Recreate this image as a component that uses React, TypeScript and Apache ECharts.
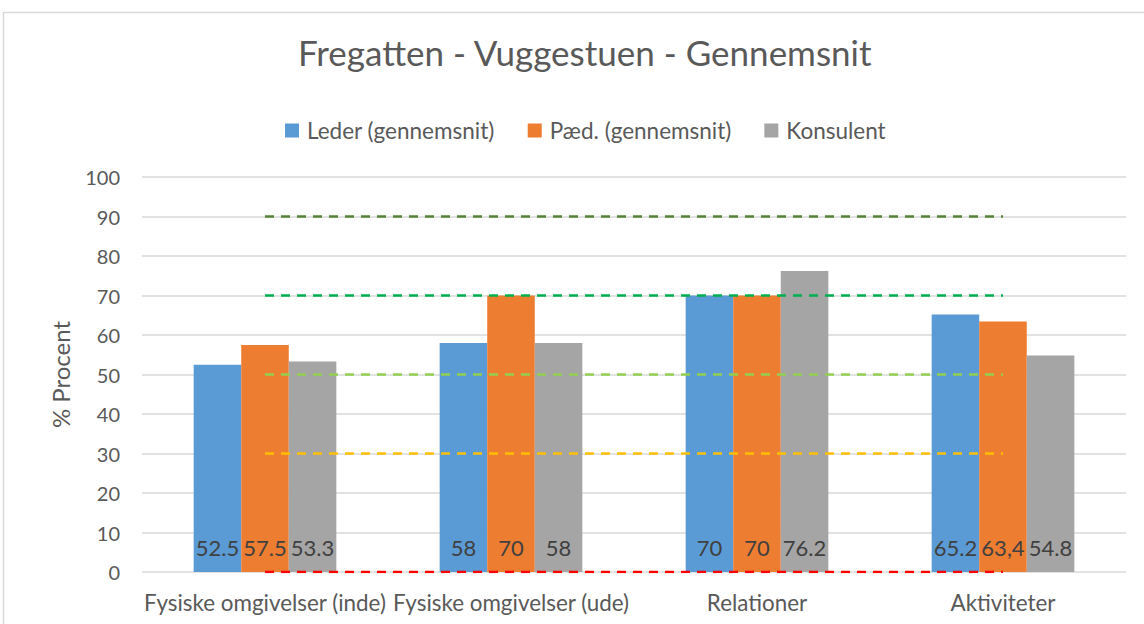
import React, { useEffect, useRef } from "react";
import * as echarts from "echarts";

const categories = [
  "Fysiske omgivelser (inde)",
  "Fysiske omgivelser (ude)",
  "Relationer",
  "Aktiviteter",
];
const lederValues = [52.5, 58, 70, 65.2];
const paedValues = [57.5, 70, 70, 63.4];
const konsulentValues = [53.3, 58, 76.2, 54.8];
const lederLabels = ["52.5", "58", "70", "65.2"];
const paedLabels = ["57.5", "70", "70", "63,4"];
const konsulentLabels = ["53.3", "58", "76.2", "54.8"];
const seriesNames = ["Leder (gennemsnit)", "Pæd. (gennemsnit)", "Konsulent"];
const yTicks = [0, 10, 20, 30, 40, 50, 60, 70, 80, 90, 100];
const refLevels = [90, 70, 50, 30, 0];
const refColors = ["#548235", "#00B050", "#92D050", "#FFC000", "#FF0000"];

const FONT = "Lato";

export default function App() {
  const ref = useRef<HTMLDivElement>(null);
  useEffect(() => {
    if (!ref.current) return;
    const chart = echarts.init(ref.current, null, { renderer: "svg" });
    const barLabel = (labels: string[]) => ({
      show: true,
      position: "insideBottom",
      distance: 14,
      color: "#404040",
      fontSize: 22,
      fontFamily: FONT,
      formatter: (p: any) => labels[p.dataIndex],
    });
    const bars = [
      { name: seriesNames[0], data: lederValues, color: "#5B9BD5", labels: lederLabels },
      { name: seriesNames[1], data: paedValues, color: "#ED7D31", labels: paedLabels },
      { name: seriesNames[2], data: konsulentValues, color: "#A5A5A5", labels: konsulentLabels },
    ].map((s) => ({
      type: "bar",
      name: s.name,
      data: s.data,
      barGap: "0%",
      barCategoryGap: "42%",
      itemStyle: { color: s.color },
      label: barLabel(s.labels),
      z: 2,
    }));
    const lines = refLevels.map((lvl, i) => ({
      type: "line",
      name: "ref" + lvl,
      data: categories.map(() => lvl),
      symbol: "none",
      lineStyle: { color: refColors[i], width: 2.5, type: [9, 7] },
      z: 5,
      silent: true,
    }));
    chart.setOption({
      animation: false,
      backgroundColor: "#ffffff",
      title: {
        text: "Fregatten - Vuggestuen - Gennemsnit",
        left: 293,
        top: 29,
        textStyle: { fontFamily: FONT, fontSize: 35, fontWeight: "normal", color: "#595959" },
      },
      legend: {
        data: seriesNames,
        top: 114,
        left: 280,
        icon: "rect",
        itemWidth: 14,
        itemHeight: 14,
        itemGap: 33,
        textStyle: { fontFamily: FONT, fontSize: 22.5, color: "#595959", padding: [0, 0, 0, 3] },
      },
      grid: { left: 142, right: 18, top: 177, bottom: 52 },
      xAxis: {
        type: "category",
        data: categories,
        axisLine: { show: false },
        axisTick: { show: false },
        axisLabel: { fontFamily: FONT, fontSize: 22.4, color: "#595959", margin: 19, interval: 0 },
      },
      yAxis: {
        type: "value",
        min: 0,
        max: 100,
        interval: 10,
        name: "% Procent",
        nameLocation: "middle",
        nameGap: 70,
        nameTextStyle: { fontFamily: FONT, fontSize: 24, color: "#595959" },
        axisLabel: {
          fontFamily: FONT,
          fontSize: 20,
          color: "#595959",
          margin: 22,
          formatter: (v: number) => (yTicks.includes(v) ? String(v) : ""),
        },
        splitLine: { lineStyle: { color: "#D9D9D9", width: 1.5 } },
      },
      graphic: [
        {
          type: "rect",
          shape: { x: 3.5, y: 12.5, width: 1160, height: 640 },
          style: { fill: "none", stroke: "#D9D9D9", lineWidth: 1.5 },
          silent: true,
          z: -10,
        },
      ],
      series: [...bars, ...lines],
    });
    return () => chart.dispose();
  }, []);
  return (
    <div
      ref={ref}
      style={{ position: "fixed", left: 0, top: 0, width: 1144, height: 624 }}
    />
  );
}
